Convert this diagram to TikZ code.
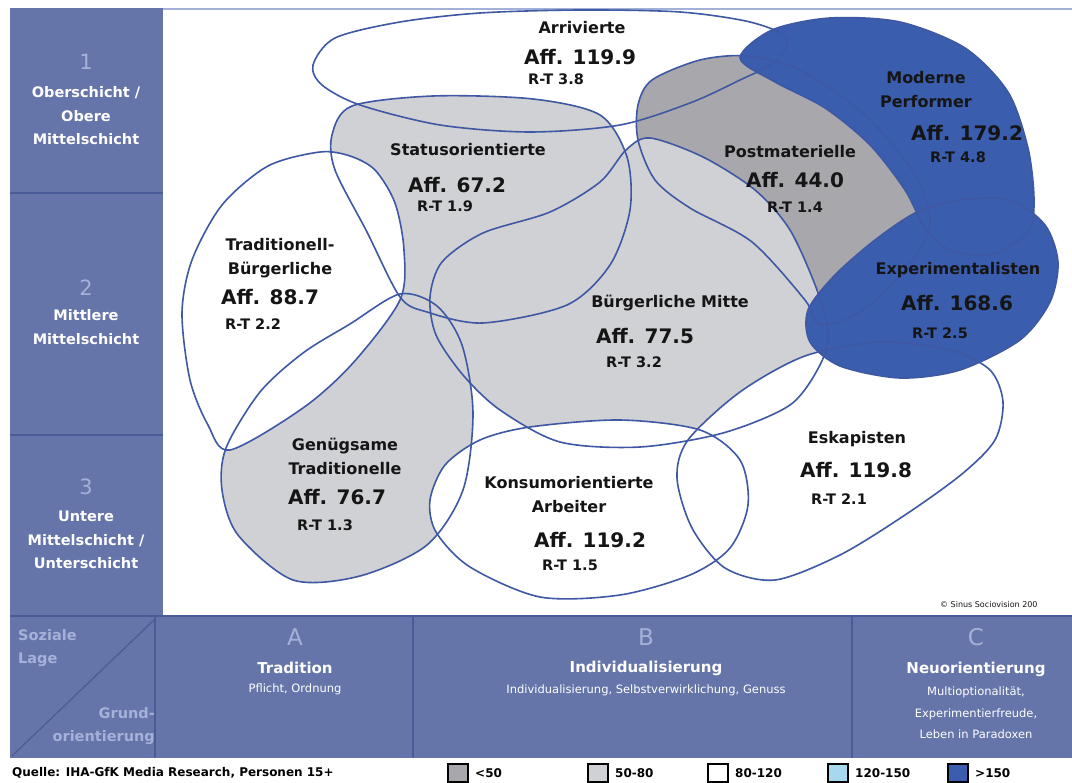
\documentclass[tikz,border=0pt]{standalone}
\usepackage{fontspec}
\setmainfont{DejaVu Sans}
\usepackage{xcolor}

\begin{document}
\begin{tikzpicture}[x=1pt, y=-1pt,
  blobLine/.style={draw=cLine, line width=1.6pt},
  mname/.style={font=\bfseries\fontsize{16}{24}\selectfont, text=cInk, inner sep=0pt, align=center},
  affval/.style={font=\bfseries\fontsize{20}{22}\selectfont, text=cInk, inner sep=0pt},
  rtval/.style={font=\bfseries\fontsize{14.5}{16}\selectfont, text=cInk, inner sep=0pt},
  rowNum/.style={font=\fontsize{21}{23}\selectfont, text=cPaleTxt, inner sep=0pt},
  rowTxt/.style={font=\bfseries\fontsize{14.5}{23.5}\selectfont, text=white, inner sep=0pt, align=center},
  colHead/.style={font=\bfseries\fontsize{15}{17}\selectfont, text=white, inner sep=0pt},
  colSub/.style={font=\fontsize{11.5}{21.5}\selectfont, text=white, inner sep=0pt, align=center},
  legTxt/.style={font=\bfseries\fontsize{12}{14}\selectfont, text=black, inner sep=0pt, anchor=west}]

% --- colours ---
\definecolor{cPanel}  {HTML}{6575AA}
\definecolor{cPanelDk}{HTML}{4A5C98}
\definecolor{cPaleTxt}{HTML}{A5B1D8}
\definecolor{cFrame}  {HTML}{A3B0D8}
\definecolor{cLine}   {HTML}{3F58A3}
\definecolor{cInk}    {HTML}{151515}
\definecolor{cBlue}   {HTML}{3A5DAE}
\definecolor{cPost}   {HTML}{A8A8AC}
\definecolor{cLight}  {HTML}{D0D1D5}
\definecolor{cSky}    {HTML}{A8D8F0}

\useasboundingbox (0,0) rectangle (1072,783);
\fill[white] (0,0) rectangle (1072,783);

% --- frame and panels ---
\fill[cPanel] (10,8) rectangle (163,615);
\draw[cFrame, line width=2pt] (163,9) -- (1072,9);
\draw[cPanelDk, line width=2pt] (10,193) -- (163,193);
\draw[cPanelDk, line width=2pt] (10,435) -- (163,435);
\fill[cPanel] (10,617) rectangle (1072,758);
\draw[cPanelDk, line width=2pt] (10,616) -- (1072,616);
\foreach \xs in {155,413,852}
  \draw[cPanelDk, line width=1.5pt] (\xs,617) -- (\xs,758);
\draw[cPanelDk, line width=1.2pt] (12,756) -- (155,619);

% --- milieu shapes ---
\def\pArr{plot[smooth cycle] coordinates {(313,65) (335,38) (400,22) (480,13) (580,10) (680,12) (750,22) (787,38) (775,62) (740,80) (690,103) (620,125) (530,132) (440,125) (360,105) (322,85)}}
\def\pPost{plot[smooth cycle] coordinates {(638,105) (652,80) (700,60) (748,56) (800,70) (865,115) (915,175) (930,225) (905,270) (860,312) (820,325) (805,300) (752,242) (690,208) (655,180) (638,140)}}
\def\pStat{plot[smooth cycle] coordinates {(332,135) (352,106) (433,96) (533,99) (600,115) (627,157) (630,210) (610,265) (567,305) (483,323) (427,312) (400,297) (367,232) (335,170)}}
\def\pBM{plot[smooth cycle] coordinates {(430,297) (442,262) (483,233) (550,212) (600,182) (626,150) (650,138) (703,157) (755,190) (790,230) (817,290) (828,333) (820,365) (790,405) (723,433) (640,447) (560,442) (500,410) (463,375) (436,335)}}
\def\pGen{plot[smooth cycle] coordinates {(400,294) (350,324) (303,353) (260,392) (226,448) (222,490) (238,535) (293,580) (360,576) (427,545) (463,490) (473,413) (462,345) (437,306)}}
\def\pTB{plot[smooth cycle] coordinates {(320,152) (268,166) (222,205) (192,260) (182,313) (190,380) (208,425) (230,450) (303,408) (353,363) (400,300) (404,250) (395,203) (375,170) (350,156)}}
\def\pKon{plot[smooth cycle] coordinates {(430,500) (445,465) (480,440) (530,427) (620,420) (700,430) (740,460) (748,505) (730,548) (690,575) (620,595) (540,597) (470,567) (436,532)}}
\def\pEsk{plot[smooth cycle] coordinates {(688,440) (740,392) (805,356) (880,342) (950,350) (990,370) (1003,402) (995,440) (962,474) (905,515) (840,555) (775,580) (725,568) (692,528) (677,478)}}
\def\pMP{plot[smooth cycle] coordinates {(740,58) (772,30) (830,18) (900,22) (965,48) (1008,92) (1028,148) (1034,200) (1028,232) (990,255) (950,250) (925,228) (905,190) (870,145) (825,108) (775,82)}}
\def\pExp{plot[smooth cycle] coordinates {(917,212) (960,200) (1010,200) (1045,225) (1058,262) (1050,302) (1020,340) (960,370) (900,378) (840,366) (810,342) (808,310) (835,275) (875,240)}}

\foreach \shp/\col in {\pArr/white, \pPost/cPost, \pStat/cLight, \pBM/cLight,
  \pGen/cLight, \pTB/white, \pKon/white, \pEsk/white, \pMP/cBlue, \pExp/cBlue}
  \fill[\col] \shp;
\foreach \shp in {\pArr, \pPost, \pStat, \pBM, \pGen, \pTB, \pKon, \pEsk, \pMP, \pExp}
  \draw[blobLine] \shp;

% --- milieu labels ---
\node[mname] (arrN) at (582,28) {Arrivierte};
\node[affval] (arrA) at (580,57) {Aff. 119.9};
\node[rtval, anchor=west] (arrR) at (528,79) {R-T 3.8};

\node[mname] (mpN) at (926,90) {Moderne\\Performer};
\node[affval] (mpA) at (967,133) {Aff. 179.2};
\node[rtval] (mpR) at (958,157) {R-T 4.8};

\node[mname] (statN) at (468,150) {Statusorientierte};
\node[affval] (statA) at (457,185) {Aff. 67.2};
\node[rtval, anchor=west] (statR) at (417,206) {R-T 1.9};

\node[mname] (postN) at (790,152) {Postmaterielle};
\node[affval] (postA) at (795,180) {Aff. 44.0};
\node[rtval] (postR) at (795,207) {R-T 1.4};

\node[mname] (tbN) at (280,258) {Traditionell-\\Bürgerliche};
\node[affval] (tbA) at (270,297) {Aff. 88.7};
\node[rtval, anchor=west] (tbR) at (225,324) {R-T 2.2};

\node[mname] (bmN) at (670,303) {Bürgerliche Mitte};
\node[affval] (bmA) at (645,336) {Aff. 77.5};
\node[rtval] (bmR) at (634,362) {R-T 3.2};

\node[mname] (expN) at (958,270) {Experimentalisten};
\node[affval] (expA) at (957,303) {Aff. 168.6};
\node[rtval] (expR) at (940,333) {R-T 2.5};

\node[mname] (genN) at (345,456) {Genügsame\\Traditionelle};
\node[affval] (genA) at (337,497) {Aff. 76.7};
\node[rtval] (genR) at (325,525) {R-T 1.3};

\node[mname] (konN) at (569,495) {Konsumorientierte\\Arbeiter};
\node[affval] (konA) at (590,540) {Aff. 119.2};
\node[rtval] (konR) at (570,565) {R-T 1.5};

\node[mname] (eskN) at (857,439) {Eskapisten};
\node[affval] (eskA) at (856,470) {Aff. 119.8};
\node[rtval] (eskR) at (839,499) {R-T 2.1};

\node[font=\fontsize{8}{9}\selectfont, text=cInk, anchor=west, inner sep=0pt]
  (copy) at (940,605) {© Sinus Sociovision 200};

% --- social layers (rows) ---
\node[rowNum] (num1) at (86,62) {1};
\node[rowTxt] (row1) at (86,116) {Oberschicht /\\Obere\\Mittelschicht};
\node[rowNum] (num2) at (86,288) {2};
\node[rowTxt] (row2) at (86,327) {Mittlere\\Mittelschicht};
\node[rowNum] (num3) at (86,487) {3};
\node[rowTxt] (row3) at (86,540) {Untere\\Mittelschicht /\\Unterschicht};

% --- basic orientation (columns) ---
\node[rowTxt, text=cPaleTxt, align=left, anchor=west] (lage) at (18,648) {Soziale\\Lage};
\node[rowTxt, text=cPaleTxt, align=right, anchor=east] (grund) at (155,726) {Grund-\\orientierung};

\node[rowNum, font=\fontsize{23}{25}\selectfont] (colA) at (295,637) {A};
\node[colHead] (headA) at (295,668) {Tradition};
\node[colSub] (subA) at (295,689) {Pflicht, Ordnung};

\node[rowNum, font=\fontsize{23}{25}\selectfont] (colB) at (646,637) {B};
\node[colHead] (headB) at (646,668) {Individualisierung};
\node[colSub] (subB) at (646,690) {Individualisierung, Selbstverwirklichung, Genuss};

\node[rowNum, font=\fontsize{23}{25}\selectfont] (colC) at (976,637) {C};
\node[colHead] (headC) at (976,669) {Neuorientierung};
\node[colSub] (subC) at (976,713) {Multioptionalität,\\Experimentierfreude,\\Leben in Paradoxen};

% --- source and legend ---
\node[legTxt] (src) at (12,773) {Quelle: IHA-GfK Media Research, Personen 15+};
\foreach \bx/\col/\txt [count=\li] in {448/cPost/<50, 588/cLight/50-80,
  708/white/80-120, 828/cSky/120-150, 948/cBlue/>150}{%
  \draw[black, line width=1.3pt, fill=\col] (\bx,764) rectangle (\bx+20,782);
  \node[legTxt] (leg\li) at (\bx+27,773) {\txt};
}

\end{tikzpicture}
\end{document}
